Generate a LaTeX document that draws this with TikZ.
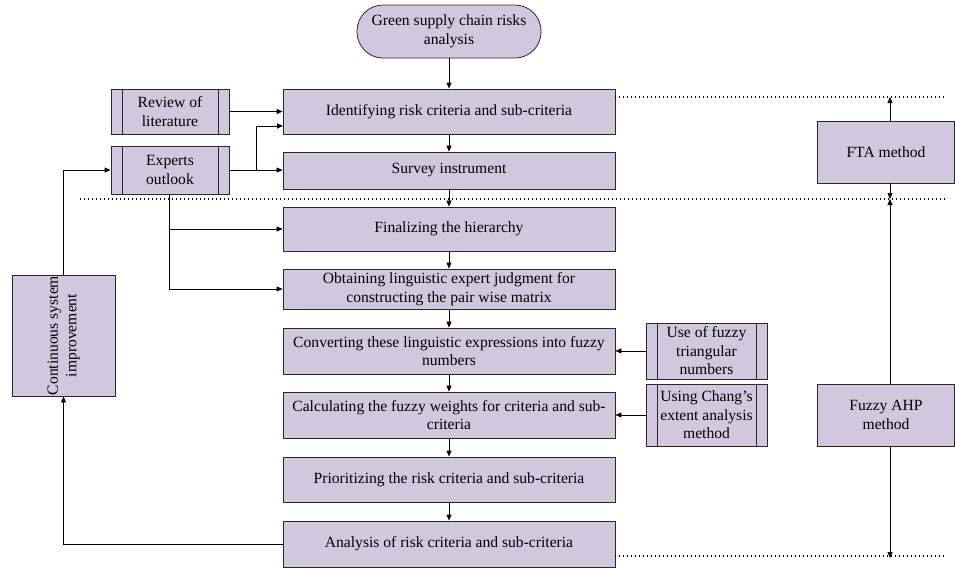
\documentclass[tikz,border=0pt]{standalone}
\usepackage{fontspec}
\setmainfont{Liberation Serif}
\usetikzlibrary{arrows.meta,calc}
\definecolor{boxfill}{RGB}{209,200,224}
\definecolor{edge}{RGB}{40,40,40}
\tikzset{
  base/.style={draw=edge,fill=boxfill,line width=0.8pt,align=center,inner sep=1pt,
    font=\fontsize{15.6}{18.5}\selectfont},
  mainbox/.style={base,minimum width=332pt},
  subproc/.style={base,
    path picture={
      \draw[edge,line width=0.8pt] ([xshift=11pt]path picture bounding box.north west) -- ([xshift=11pt]path picture bounding box.south west);
      \draw[edge,line width=0.8pt] ([xshift=-11pt]path picture bounding box.north east) -- ([xshift=-11pt]path picture bounding box.south east);}},
  conn/.style={draw=black,line width=0.8pt,-{Triangle[length=6pt,width=5pt]}},
  dotline/.style={draw=black,line width=1.1pt,dash pattern=on 1.1pt off 2.9pt}
}
\begin{document}
\begin{tikzpicture}[x=1pt,y=-1pt]
\useasboundingbox (0,0) rectangle (955,568);

% main column
\node[base,minimum width=184pt,minimum height=53pt,rounded corners=26pt] (start) at (449,31.5) {Green supply chain risks\\analysis};
\node[mainbox,minimum height=45pt] (ident) at (449,111.5) {Identifying risk criteria and sub-criteria};
\node[mainbox,minimum height=37pt] (survey) at (449,170.5) {Survey instrument};
\node[mainbox,minimum height=44pt] (final) at (449,229) {Finalizing the hierarchy};
\node[mainbox,minimum height=40pt] (obtain) at (449,289) {Obtaining linguistic expert judgment for\\constructing the pair wise matrix};
\node[mainbox,minimum height=46pt] (convert) at (449,351) {Converting these linguistic expressions into fuzzy\\numbers};
\node[mainbox,minimum height=46pt] (calc) at (449,415) {Calculating the fuzzy weights for criteria and sub-\\criteria};
\node[mainbox,minimum height=45pt] (prior) at (449,479.5) {Prioritizing the risk criteria and sub-criteria};
\node[mainbox,minimum height=46pt] (analysis) at (449,544) {Analysis of risk criteria and sub-criteria};

% left boxes
\node[subproc,minimum width=118pt,minimum height=45pt] (review) at (170,111.5) {Review of\\literature};
\node[subproc,minimum width=118pt,minimum height=48pt] (experts) at (170,170) {Experts\\outlook};
\node[base,minimum width=103pt,minimum height=117pt] (cont) at (63.5,335.5) {\rotatebox{90}{\begin{tabular}{@{}c@{}}Continuous system\\improvement\end{tabular}}};

% right side boxes
\node[subproc,minimum width=121pt,minimum height=56pt] (fuzzy) at (706.5,351) {Use of fuzzy\\triangular\\numbers};
\node[subproc,minimum width=121pt,minimum height=62pt] (chang) at (706.5,415) {Using Chang’s\\extent analysis\\method};
\node[base,minimum width=137pt,minimum height=62pt] (fta) at (886,152) {FTA method};
\node[base,minimum width=137pt,minimum height=62pt] (ahp) at (886,415) {Fuzzy AHP\\method};

% dotted lines
\coordinate (d1a) at (615,97);  \coordinate (d1b) at (945,97);
\coordinate (d2a) at (80,199);  \coordinate (d2b) at (945,199);
\coordinate (d3a) at (615,556); \coordinate (d3b) at (945,556);
\draw[dotline] (d1a) -- (d1b);
\draw[dotline] (d2a) -- (d2b);
\draw[dotline] (d3a) -- (d3b);

% main flow
\draw[conn] (start) -- (ident);
\draw[conn] (ident) -- (survey);
\draw[conn] (survey) -- (final);
\draw[conn] (final) -- (obtain);
\draw[conn] (obtain) -- (convert);
\draw[conn] (convert) -- (calc);
\draw[conn] (calc) -- (prior);
\draw[conn] (prior) -- (analysis);

% left connections
\draw[conn] (review.east) -- (review.east -| ident.west);
\draw[conn] (experts.east) -- (experts.east -| survey.west);
\coordinate (eb) at (256,170);
\coordinate (ie) at (283,126);
\draw[conn] (eb) |- (ie);
\coordinate (es) at (169,194);
\draw[conn] (es) |- (obtain.west);
\draw[conn] (es |- final.west) -- (final.west);
\draw[conn] (cont.north) |- (experts.west);
\draw[conn] (analysis.west) -| (cont.south);

% right connections
\draw[conn] (fuzzy.west) -- (fuzzy.west -| convert.east);
\draw[conn] (chang.west) -- (chang.west -| calc.east);

% method arrows
\coordinate (ax) at (890,0);
\draw[conn] (fta.north -| ax) -- (d1a -| ax);
\draw[conn] (fta.south -| ax) -- (d2a -| ax);
\draw[conn] (ahp.north -| ax) -- (d2a -| ax);
\draw[conn] (ahp.south -| ax) -- ([yshift=-2pt]d3a -| ax);
\end{tikzpicture}
\end{document}
